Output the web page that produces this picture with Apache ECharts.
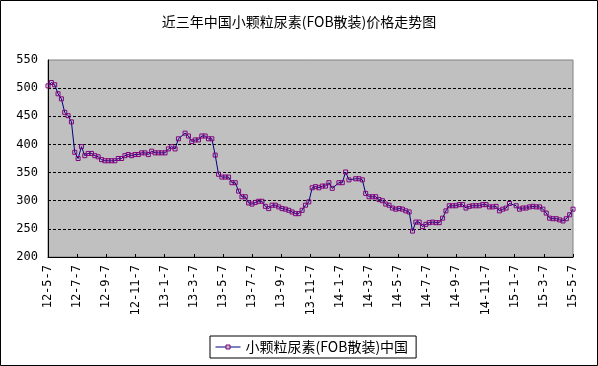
<!DOCTYPE html>
<html><head><meta charset="utf-8">
<script src="https://cdn.jsdelivr.net/npm/echarts@6/dist/echarts.min.js"></script>
<style>html,body{margin:0;padding:0;background:#fff}#c{width:598px;height:366px}</style>
</head><body><div id="c"></div>
<script>
const chartTitle = '近三年中国小颗粒尿素(FOB散装)价格走势图';
const seriesName = '小颗粒尿素(FOB散装)中国';
const tickLabels = ['12-5-7','12-7-7','12-9-7','12-11-7','13-1-7','13-3-7','13-5-7','13-7-7','13-9-7','13-11-7',
  '14-1-7','14-3-7','14-5-7','14-7-7','14-9-7','14-11-7','15-1-7','15-3-7','15-5-7'];
const yTicks = { min: 200, max: 550, step: 50 };
// weekly prices (USD/t); null = week without a marker
const prices = [
  504,510,506,490,481,457,451,440,386,375,
  396,380,384,384,380,378,373,371,371,371,
  371,375,375,380,382,380,382,382,385,385,
  382,388,385,385,385,385,392,396,392,410,
  null,420,415,405,408,408,415,415,410,410,
  381,347,342,342,342,332,332,317,307,307,
  296,294,297,299,299,290,286,292,292,289,
  286,285,283,280,277,277,283,292,298,323,
  325,323,326,326,332,322,null,332,332,351,
  337,null,339,339,337,313,307,307,307,302,
  300,294,292,287,285,286,285,282,280,246,
  262,262,254,258,261,262,261,261,269,282,
  291,291,291,293,293,287,290,291,291,291,
  293,293,289,289,290,282,285,287,295,null,
  291,285,287,287,289,290,289,289,285,278,
  269,268,268,266,264,268,275,285
];
const weeks = prices.map((_, i) => new Date(Date.UTC(2012, 4, 7) + i * 7 * 864e5).toISOString().slice(0, 10));

const axisFont = 'DejaVu Sans Mono';
const cjkFont = 'Noto Sans CJK SC';
const chart = echarts.init(document.getElementById('c'), null, { renderer: 'canvas' });
chart.setOption({
  animation: false,
  backgroundColor: '#fff',
  title: { text: chartTitle, left: 'center', top: 15, padding: 0,
    textStyle: { fontFamily: cjkFont, fontSize: 14, fontWeight: 'normal', color: '#000' } },
  grid: { left: 48, right: 25, top: 60, bottom: 109, show: true, backgroundColor: '#C0C0C0',
    borderColor: '#808080', borderWidth: 1, containLabel: false },
  xAxis: [
    { type: 'category', data: weeks, boundaryGap: false, show: false },
    { type: 'category', data: tickLabels, boundaryGap: false, position: 'bottom',
      axisLine: { show: true, lineStyle: { color: '#000', width: 1 } },
      axisTick: { show: true, inside: true, length: 3, interval: 0, lineStyle: { color: '#000' } },
      axisLabel: { interval: 0, rotate: 90, margin: 8, fontFamily: axisFont, fontSize: 12, color: '#000' },
      splitLine: { show: false } }
  ],
  yAxis: { type: 'value', min: yTicks.min, max: yTicks.max, interval: yTicks.step,
    axisLine: { show: true, lineStyle: { color: '#000', width: 1 } },
    axisTick: { show: false },
    axisLabel: { margin: 10, fontFamily: axisFont, fontSize: 12, color: '#000' },
    splitLine: { show: true, lineStyle: { color: ['rgba(0,0,0,0)','#000','#000','#000','#000','#000','#000','rgba(0,0,0,0)'], type: [3, 2], width: 1 } } },
  legend: { left: 210, top: 336, data: [seriesName], itemWidth: 25, itemHeight: 5,
    padding: [3, 8, 3, 5], borderColor: '#000', borderWidth: 1, backgroundColor: '#fff', selectedMode: false,
    itemStyle: { color: '#C0C0C0', borderColor: '#800080', borderWidth: 1 },
    lineStyle: { color: '#000080', width: 1 },
    textStyle: { fontFamily: cjkFont, fontSize: 14, color: '#000', lineHeight: 16 } },
  series: [{
    type: 'line', name: seriesName, xAxisIndex: 0, data: prices, connectNulls: true,
    symbol: 'rect', symbolSize: 4, showAllSymbol: true,
    lineStyle: { color: '#000080', width: 1 },
    itemStyle: { color: 'rgba(0,0,0,0)', borderColor: '#800080', borderWidth: 1 },
    emphasis: { disabled: true }
  }],
  graphic: [{ type: 'rect', silent: true, shape: { x: 0.5, y: 0.5, width: 597, height: 365 },
    style: { fill: 'none', stroke: '#000', lineWidth: 1 } }]
});
</script></body></html>
